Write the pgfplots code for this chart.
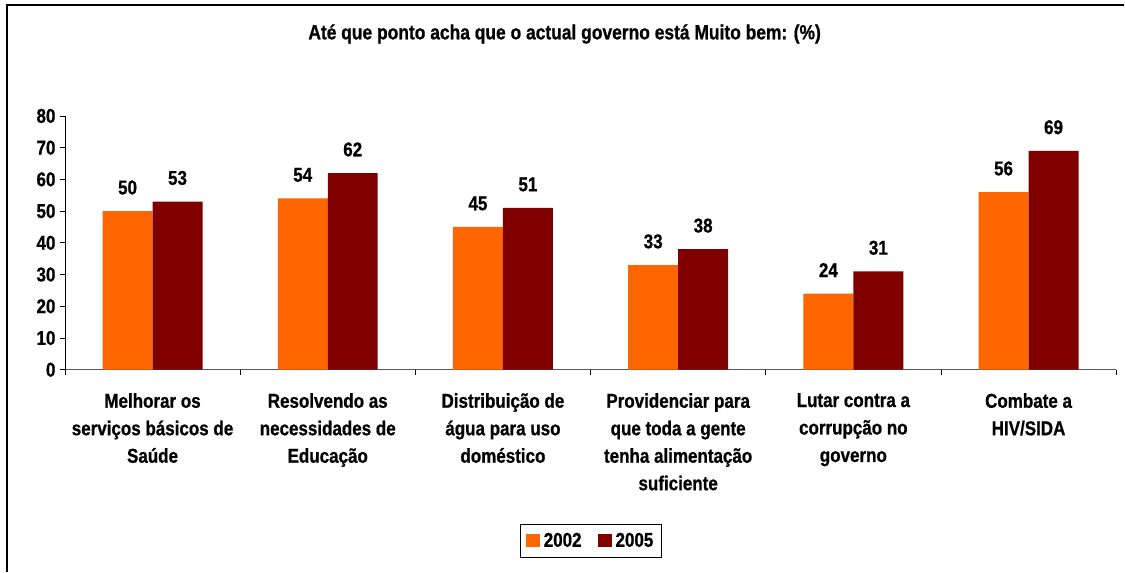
\documentclass[border=0pt]{standalone}
\usepackage{pgfplots}
\pgfplotsset{compat=1.18}
\usepackage{fontspec}
\setmainfont{Liberation Sans}[FakeStretch=0.85, BoldFeatures={FakeBold=0.8}]
\definecolor{orA}{HTML}{FF6600}
\definecolor{drB}{HTML}{800000}
\begin{document}
\begin{tikzpicture}[x=1pt,y=1pt]
\path (0,0) rectangle (1125,572);
\draw[line width=1.6pt] (7,0) -- (7,567) -- (1125,567);
\node[font=\fontsize{20.5}{24}\selectfont\bfseries] at (565,538) {Até que ponto acha que o actual governo está Muito bem: (\%)};
\begin{axis}[
  at={(65pt,202pt)}, anchor=south west,
  scale only axis, width=1052pt, height=254pt,
  ybar=0pt, bar width=50pt,
  xmin=-0.5, xmax=5.5, ymin=0, ymax=80,
  ytick={0,10,...,80},
  xtick={-0.5,0.5,...,5.5},
  x tick label as interval,
  xticklabels={{Melhorar os\\serviços básicos de\\Saúde},
               {Resolvendo as\\necessidades de\\Educação},
               {Distribuição de\\água para uso\\doméstico},
               {Providenciar para\\que toda a gente\\tenha alimentação\\suficiente},
               {Lutar contra a\\corrupção no\\governo},
               {Combate a\\HIV/SIDA}},
  axis lines=left,
  axis line style={-},
  x axis line style={draw=gray!70!black, line width=1pt},
  y axis line style={draw=black, line width=0.8pt},
  tick align=outside,
  major tick length=5pt,
  tick style={black, line width=0.8pt},
  /pgf/number format/assume math mode=true,
  yticklabel style={font=\fontsize{20}{24}\selectfont\bfseries, xshift=-1pt},
  xticklabel style={font=\fontsize{20}{27.5}\selectfont\bfseries, align=center, yshift=-15pt},
  nodes near coords,
  every node near coord/.append style={font=\fontsize{20}{24}\selectfont\bfseries, yshift=13pt, black},
  legend style={at={(0.5,-0.673)}, anchor=center, legend columns=2, draw=black,
     font=\fontsize{20}{24}\selectfont\bfseries, inner xsep=6pt, inner ysep=7pt,
     /tikz/every even column/.append style={column sep=14pt},
     /tikz/every odd column/.append style={column sep=2pt}},
  legend image code/.code={\fill[#1] (0pt,-6pt) rectangle (14pt,7pt);},
]
\addplot[fill=orA, draw=none] coordinates {(0,50) (1,54) (2,45) (3,33) (4,24) (5,56)};
\addplot[fill=drB, draw=none] coordinates {(0,53) (1,62) (2,51) (3,38) (4,31) (5,69)};
\legend{2002,2005}
\end{axis}
\end{tikzpicture}
\end{document}
